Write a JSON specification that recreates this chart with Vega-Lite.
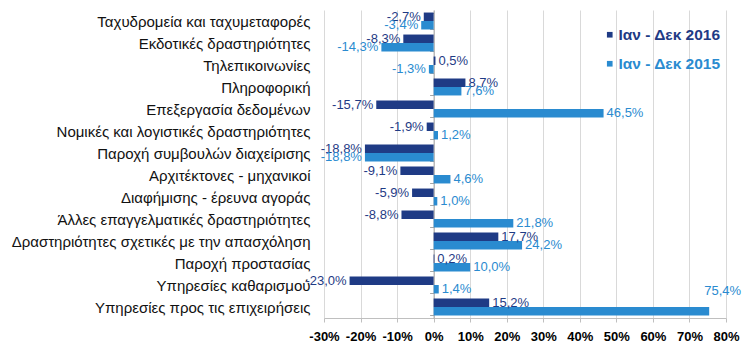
{
  "$schema": "https://vega.github.io/schema/vega-lite/v6.json",
  "width": 402,
  "height": 308,
  "autosize": {"type": "none"},
  "padding": {"left": 324, "top": 10, "right": 22, "bottom": 36},
  "background": "white",
  "config": {
    "view": {"stroke": null},
    "font": "Liberation Sans",
    "locale": {"number": {"decimal": ",", "thousands": ".", "grouping": [3], "currency": ["", " €"], "minus": "-"}}
  },
  "data": {
    "values": [
      {"cat": "Ταχυδρομεία και ταχυμεταφορές", "series": "Ιαν - Δεκ 2016", "v": -0.027},
      {"cat": "Ταχυδρομεία και ταχυμεταφορές", "series": "Ιαν - Δεκ 2015", "v": -0.034},
      {"cat": "Εκδοτικές δραστηριότητες", "series": "Ιαν - Δεκ 2016", "v": -0.083},
      {"cat": "Εκδοτικές δραστηριότητες", "series": "Ιαν - Δεκ 2015", "v": -0.143},
      {"cat": "Τηλεπικοινωνίες", "series": "Ιαν - Δεκ 2016", "v": 0.005},
      {"cat": "Τηλεπικοινωνίες", "series": "Ιαν - Δεκ 2015", "v": -0.013},
      {"cat": "Πληροφορική", "series": "Ιαν - Δεκ 2016", "v": 0.087},
      {"cat": "Πληροφορική", "series": "Ιαν - Δεκ 2015", "v": 0.076},
      {"cat": "Επεξεργασία δεδομένων", "series": "Ιαν - Δεκ 2016", "v": -0.157},
      {"cat": "Επεξεργασία δεδομένων", "series": "Ιαν - Δεκ 2015", "v": 0.465},
      {"cat": "Νομικές και λογιστικές δραστηριότητες", "series": "Ιαν - Δεκ 2016", "v": -0.019},
      {"cat": "Νομικές και λογιστικές δραστηριότητες", "series": "Ιαν - Δεκ 2015", "v": 0.012},
      {"cat": "Παροχή συμβουλών διαχείρισης", "series": "Ιαν - Δεκ 2016", "v": -0.188},
      {"cat": "Παροχή συμβουλών διαχείρισης", "series": "Ιαν - Δεκ 2015", "v": -0.188},
      {"cat": "Αρχιτέκτονες - μηχανικοί", "series": "Ιαν - Δεκ 2016", "v": -0.091},
      {"cat": "Αρχιτέκτονες - μηχανικοί", "series": "Ιαν - Δεκ 2015", "v": 0.046},
      {"cat": "Διαφήμισης - έρευνα αγοράς", "series": "Ιαν - Δεκ 2016", "v": -0.059},
      {"cat": "Διαφήμισης - έρευνα αγοράς", "series": "Ιαν - Δεκ 2015", "v": 0.010},
      {"cat": "Άλλες επαγγελματικές δραστηριότητες", "series": "Ιαν - Δεκ 2016", "v": -0.088},
      {"cat": "Άλλες επαγγελματικές δραστηριότητες", "series": "Ιαν - Δεκ 2015", "v": 0.218},
      {"cat": "Δραστηριότητες σχετικές με την απασχόληση", "series": "Ιαν - Δεκ 2016", "v": 0.177},
      {"cat": "Δραστηριότητες σχετικές με την απασχόληση", "series": "Ιαν - Δεκ 2015", "v": 0.242},
      {"cat": "Παροχή προστασίας", "series": "Ιαν - Δεκ 2016", "v": 0.002},
      {"cat": "Παροχή προστασίας", "series": "Ιαν - Δεκ 2015", "v": 0.100},
      {"cat": "Υπηρεσίες καθαρισμού", "series": "Ιαν - Δεκ 2016", "v": -0.230},
      {"cat": "Υπηρεσίες καθαρισμού", "series": "Ιαν - Δεκ 2015", "v": 0.014},
      {"cat": "Υπηρεσίες προς τις επιχειρήσεις", "series": "Ιαν - Δεκ 2016", "v": 0.152},
      {"cat": "Υπηρεσίες προς τις επιχειρήσεις", "series": "Ιαν - Δεκ 2015", "v": 0.754}
    ]
  },
  "encoding": {
    "y": {
      "field": "cat", "type": "nominal", "sort": null,
      "scale": {"paddingInner": 0.23, "paddingOuter": 0.115},
      "axis": {
        "title": null, "offset": -109.6, "domainColor": "#a6a6a6", "tickColor": "#a6a6a6",
        "tickSize": 4, "tickBand": "extent", "labelPadding": 119.6, "labelFontSize": 15,
        "labelColor": "#111111", "labelLimit": 400, "labelOverlap": false
      }
    },
    "yOffset": {"field": "series", "type": "nominal", "sort": ["Ιαν - Δεκ 2016", "Ιαν - Δεκ 2015"]},
    "x": {
      "field": "v", "type": "quantitative",
      "scale": {"domain": [-0.3, 0.8], "nice": false, "zero": false},
      "axis": {
        "title": null, "format": ".0%", "values": [-0.3, -0.2, -0.1, 0, 0.1, 0.2, 0.3, 0.4, 0.5, 0.6, 0.7, 0.8],
        "grid": true, "gridColor": "#d9d9d9", "domainColor": "#bfbfbf", "tickColor": "#bfbfbf",
        "tickSize": 4, "labelFontSize": 13, "labelFontWeight": "bold", "labelColor": "#000000",
        "labelPadding": 8, "labelOverlap": false, "labelFlush": false
      }
    }
  },
  "layer": [
    {
      "mark": {"type": "bar"},
      "encoding": {
        "color": {
          "field": "series", "type": "nominal",
          "scale": {"domain": ["Ιαν - Δεκ 2016", "Ιαν - Δεκ 2015"], "range": ["#1f3b85", "#2a8bd0"]},
          "legend": {
            "orient": "none", "legendX": 278, "legendY": 17, "title": null, "symbolType": "square",
            "symbolSize": 32, "labelFontSize": 15.5, "labelFontWeight": "bold", "rowPadding": 12,
            "padding": 0, "symbolStrokeWidth": 0, "labelOffset": 1,
            "encode": {"labels": {"update": {"fill": {"scale": "color", "field": "value"}}}}
          }
        }
      }
    },
    {
      "transform": [{"filter": "datum.v < 0"}],
      "mark": {"type": "text", "align": "right", "dx": -3, "fontSize": 13, "baseline": "middle"},
      "encoding": {
        "text": {"field": "v", "type": "quantitative", "format": ".1%"},
        "color": {"field": "series", "type": "nominal", "legend": null}
      }
    },
    {
      "transform": [{"filter": "datum.v >= 0 && datum.v < 0.7"}],
      "mark": {"type": "text", "align": "left", "dx": 3, "fontSize": 13, "baseline": "middle"},
      "encoding": {
        "text": {"field": "v", "type": "quantitative", "format": ".1%"},
        "color": {"field": "series", "type": "nominal", "legend": null}
      }
    },
    {
      "transform": [{"filter": "datum.v >= 0.7"}],
      "mark": {"type": "text", "align": "left", "dx": -5, "dy": -20, "fontSize": 13, "baseline": "middle"},
      "encoding": {
        "text": {"field": "v", "type": "quantitative", "format": ".1%"},
        "color": {"field": "series", "type": "nominal", "legend": null}
      }
    }
  ]
}
